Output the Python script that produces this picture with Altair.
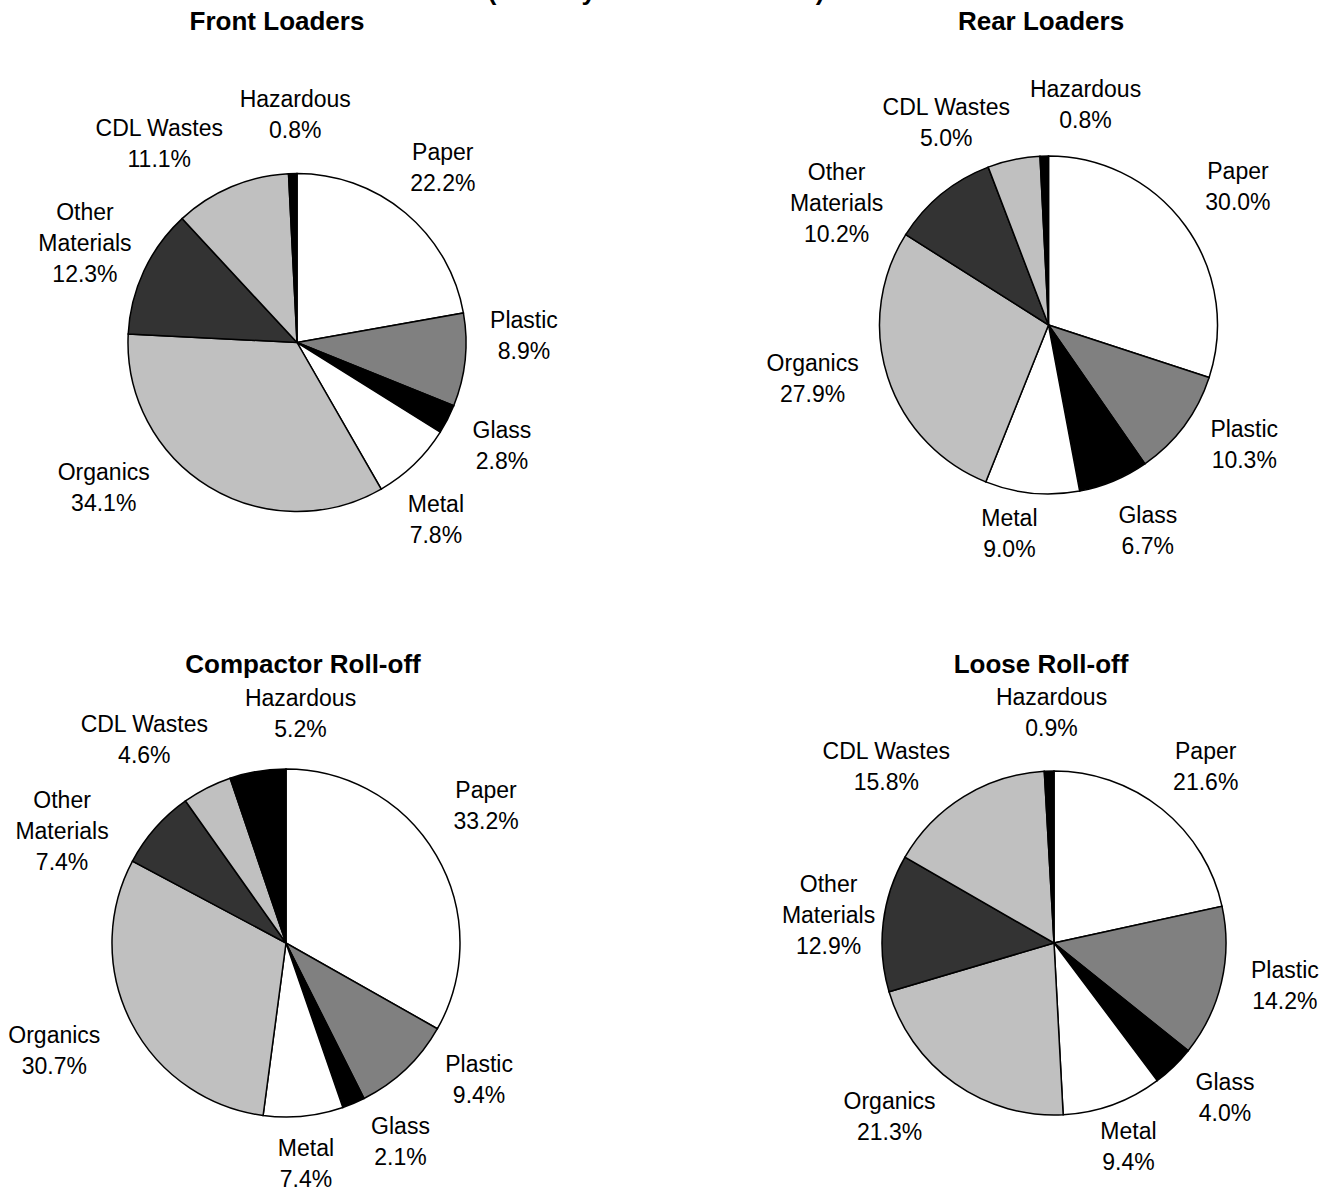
import math

import altair as alt
import numpy as np
import pandas as pd

# Waste composition (% by weight) by collection vehicle type
categories = ["Paper", "Plastic", "Glass", "Metal", "Organics",
              "Other Materials", "CDL Wastes", "Hazardous"]
front_loaders = [22.2, 8.9, 2.8, 7.8, 34.1, 12.3, 11.1, 0.8]
rear_loaders = [30.0, 10.3, 6.7, 9.0, 27.9, 10.2, 5.0, 0.8]
compactor_rolloff = [33.2, 9.4, 2.1, 7.4, 30.7, 7.4, 4.6, 5.2]
loose_rolloff = [21.6, 14.2, 4.0, 9.4, 21.3, 12.9, 15.8, 0.9]

# Slice fills, one per category (grayscale print style)
fills = ["#FFFFFF", "#808080", "#000000", "#FFFFFF",
         "#C0C0C0", "#333333", "#C0C0C0", "#000000"]

FONT = "Liberation Sans"
LABEL_SIZE = 23
LINE_HEIGHT = 31
TITLE_SIZE = 26

# Panel layout: pie centre, pie radius, title anchor, and for each slice label
# its distance from the centre (px) plus a small angular shift (degrees) that
# keeps crowded labels apart.
panels = [
    dict(title="Front Loaders", values=front_loaders,
         center=(297, 342.5), r=169, title_at=(277, 30),
         label_r=[227, 227, 230, 226, 242, 234, 241, 227],
         shift=[0, -7.5, 0, 6, 21.5, 0, -12, 1]),
    dict(title="Rear Loaders", values=rear_loaders,
         center=(1048.5, 325), r=169, title_at=(1041, 30),
         label_r=[234, 230, 229, 213, 242, 244, 226, 223],
         shift=[0, -5, -3, 5, 5, -21, -15, 11]),
    dict(title="Compactor Roll-off", values=compactor_rolloff,
         center=(286, 943), r=174, title_at=(303, 673),
         label_r=[242, 237, 230, 222, 256, 250, 247, 229],
         shift=[-4, -11, -7, 0.6, 2, -15, -8, 13]),
    dict(title="Loose Roll-off", values=loose_rolloff,
         center=(1054, 943), r=172, title_at=(1041, 673),
         label_r=[232, 235, 231, 218, 240, 227, 243, 230],
         shift=[2, -2.5, -3.7, 0, 8, 0, -12, 1]),
]

color_scale = alt.Scale(domain=categories, range=fills)


def label_text(cat, v):
    name = cat.replace("Other Materials", "Other\nMaterials")
    return f"{name}\n{v:.1f}%"


layers = []
for p in panels:
    vals = np.array(p["values"], dtype=float)
    cum = np.cumsum(vals)
    mid_deg = (cum - vals / 2) / vals.sum() * 360.0
    texts = [label_text(c, v) for c, v in zip(categories, vals)]
    df = pd.DataFrame({
        "category": categories,
        "value": vals,
        "idx": range(len(categories)),
        "label": texts,
        "lines": [t.count("\n") + 1 for t in texts],
        "label_angle": mid_deg + np.array(p["shift"]),
        "label_r": p["label_r"],
    })
    cx, cy = p["center"]

    pie = alt.Chart(df).mark_arc(
        outerRadius=p["r"], stroke="#000000", strokeWidth=1.5
    ).encode(
        theta=alt.Theta("value:Q", stack=True),
        color=alt.Color("category:N", scale=color_scale, legend=None),
        order=alt.Order("idx:Q"),
        x=alt.value(cx),
        y=alt.value(cy),
    )
    layers.append(pie)

    # Multi-line labels: Vega anchors the first line, so lift each block by
    # half its extra lines to centre it on the label point.
    for n in sorted(df["lines"].unique()):
        labels = alt.Chart(df).transform_filter(
            alt.datum.lines == int(n)
        ).mark_text(
            font=FONT, fontSize=LABEL_SIZE, lineHeight=LINE_HEIGHT,
            lineBreak="\n", align="center", baseline="middle",
            dy=-(int(n) - 1) * LINE_HEIGHT / 2, color="#000000",
        ).encode(
            theta=alt.Theta("label_angle:Q",
                            scale=alt.Scale(domain=[0, 360], range=[0, 2 * math.pi])),
            radius=alt.Radius("label_r:Q", scale=None),
            text="label:N",
            x=alt.value(cx),
            y=alt.value(cy),
        )
        layers.append(labels)

    tx, ty = p["title_at"]
    title = alt.Chart(pd.DataFrame({"t": [p["title"]]})).mark_text(
        font=FONT, fontSize=TITLE_SIZE, fontWeight="bold",
        align="center", baseline="alphabetic", color="#000000",
    ).encode(text="t:N", x=alt.value(tx), y=alt.value(ty))
    layers.append(title)

# Period line of the page heading, running off the top edge
heading = alt.Chart(pd.DataFrame({"t": ["(January \u2013 December 1999)"]})).mark_text(
    font=FONT, fontSize=TITLE_SIZE, fontWeight="bold",
    align="center", baseline="alphabetic", color="#000000",
).encode(text="t:N", x=alt.value(656), y=alt.value(-0.5))
layers.append(heading)

chart = alt.layer(*layers).resolve_scale(
    theta="independent", radius="independent"
).properties(
    width=1336, height=1189, padding=0,
    autosize=alt.AutoSizeParams(type="none"),
    background="#FFFFFF",
).configure_view(stroke=None)

chart.save("out.html", embed_options={"renderer": "svg", "actions": False})
